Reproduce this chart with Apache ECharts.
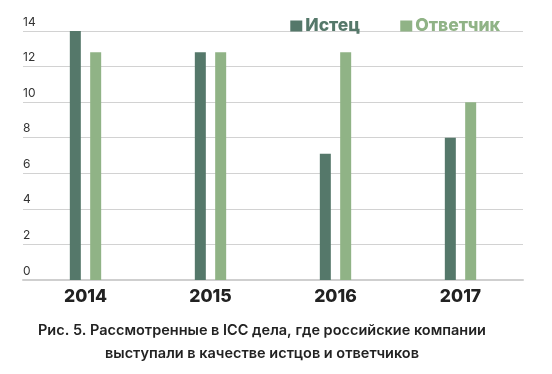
<!DOCTYPE html>
<html>
<head>
<meta charset="utf-8">
<script src="https://cdn.jsdelivr.net/npm/echarts@6/dist/echarts.min.js"></script>
<style>
html,body{margin:0;padding:0;background:#fff;}
#c{width:552px;height:374px;}
</style>
</head>
<body>
<div id="c"></div>
<script>
const categories = ['2014', '2015', '2016', '2017'];
const plaintiff = [14, 12.8, 7.1, 8];
const defendant = [12.8, 12.8, 12.8, 10];
const seriesNames = ['Истец', 'Ответчик'];
const captionLines = ['Рис. 5. Рассмотренные в ICC дела, где российские компании', 'выступали в качестве истцов и ответчиков'];

const chart = echarts.init(document.getElementById('c'), null, {renderer: 'canvas'});
const font = 'Inter, "Noto Sans", sans-serif';
chart.setOption({
  animation: false,
  textStyle: {fontFamily: font},
  grid: {left: 23, right: 29, top: 31, bottom: 94, containLabel: false},
  legend: {
    right: 47, top: 12,
    itemWidth: 12, itemHeight: 11, itemGap: 40,
    icon: 'rect',
    data: seriesNames.map((n, i) => ({name: n, textStyle: {color: i === 0 ? '#55786a' : '#90b386'}})),
    textStyle: {fontFamily: font, fontSize: 17.5, fontWeight: 800, padding: [0, 0, 0, -2]}
  },
  title: {
    text: captionLines.join('\n'),
    left: 257, top: 314, textAlign: 'center',
    textStyle: {fontFamily: font, fontSize: 14.5, fontWeight: 600, color: '#222', lineHeight: 23}
  },
  xAxis: {
    type: 'category', data: categories,
    axisLine: {lineStyle: {color: '#cfcfcf', width: 2}},
    axisTick: {show: false},
    axisLabel: {color: '#222', fontSize: 17.5, fontWeight: 800, margin: 8, fontFamily: font}
  },
  yAxis: {
    type: 'value', min: 0, max: 14, interval: 2,
    axisLine: {show: false}, axisTick: {show: false},
    splitLine: {lineStyle: {color: '#d2d2d2', width: 1.2}},
    axisLabel: {inside: true, margin: 0, verticalAlign: 'bottom', align: 'left', padding: [0, 0, 3, 0], color: '#333', fontSize: 12, fontFamily: font}
  },
  series: [
    {name: seriesNames[0], type: 'bar', data: plaintiff, barWidth: 11, barGap: '85%', itemStyle: {color: '#55786a'}},
    {name: seriesNames[1], type: 'bar', data: defendant, barWidth: 11, itemStyle: {color: '#90b386'}}
  ]
});
</script>
</body>
</html>
